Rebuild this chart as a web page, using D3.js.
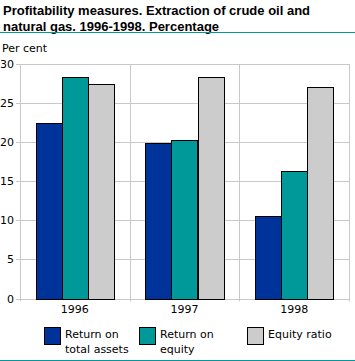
<!DOCTYPE html>
<html><head><meta charset="utf-8">
<script src="https://cdn.jsdelivr.net/npm/d3@7"></script>
<style>body{margin:0;background:#fff}svg{display:block}text{font-family:"DejaVu Sans",sans-serif}</style>
</head><body>
<script>
const categories = ["1996","1997","1998"];
const seriesNames = ["Return on total assets","Return on equity","Equity ratio"];
const legendLines = [["Return on","total assets"],["Return on","equity"],["Equity ratio"]];
const returnOnTotalAssets = [22.5, 19.9, 10.5];
const returnOnEquity = [28.4, 20.3, 16.3];
const equityRatio = [27.4, 28.3, 27.0];
const yTicks = [0,5,10,15,20,25,30];
const colors = ["#003399","#009999","#cccccc"];
const series = [returnOnTotalAssets, returnOnEquity, equityRatio];

(function(){
const W=355,H=361;
const svg=d3.select("body").append("svg").attr("width",W).attr("height",H);
const pL=20,pR=349,pT=64,pB=298.5;
const x=d3.scaleBand().domain(categories).range([pL,pR]).paddingInner(0).paddingOuter(0);
const xi=d3.scaleBand().domain(d3.range(3)).range([0,x.bandwidth()]).paddingInner(0).paddingOuter(0.6);
const y=d3.scaleLinear().domain([0,30]).range([pB,pT]);

const title=svg.append("text").attr("x",3).attr("y",15).attr("font-size",13).attr("fill","#000").style("font-family","'Liberation Sans',Arial,sans-serif").attr("font-weight","bold");
title.append("tspan").attr("x",3).attr("dy",0).text("Profitability measures. Extraction of crude oil and");
title.append("tspan").attr("x",3).attr("dy",16).text("natural gas. 1996-1998. Percentage");
svg.append("line").attr("x1",0).attr("x2",W).attr("y1",32.5).attr("y2",32.5).attr("stroke","#009999").attr("stroke-width",1);
svg.append("line").attr("x1",0).attr("x2",W).attr("y1",360.5).attr("y2",360.5).attr("stroke","#009999").attr("stroke-width",1);

svg.append("text").attr("x",2).attr("y",52).attr("font-size",11).text("Per cent");

const g=svg.append("g");
g.selectAll("line.h").data(yTicks).join("line")
 .attr("x1",pL-4).attr("x2",pR).attr("y1",d=>Math.round(y(d))+0.5).attr("y2",d=>Math.round(y(d))+0.5)
 .attr("stroke","#c8c8c8");
g.selectAll("line.v").data([pL,x("1997"),x("1998"),pR]).join("line")
 .attr("x1",d=>Math.round(d)+0.5).attr("x2",d=>Math.round(d)+0.5).attr("y1",pT).attr("y2",pB+3)
 .attr("stroke","#c8c8c8");
g.selectAll("text.yt").data(yTicks).join("text")
 .attr("x",14).attr("y",d=>y(d)+4).attr("text-anchor","end").attr("font-size",11).text(d=>d);

series.forEach((vals,si)=>{
  svg.append("g").selectAll("rect").data(vals).join("rect")
   .attr("x",(d,i)=>Math.round(x(categories[i])+xi(si))+0.5)
   .attr("width",Math.round(xi.bandwidth()))
   .attr("y",d=>Math.round(y(d))+0.5)
   .attr("height",d=>Math.round(y(0))-Math.round(y(d)))
   .attr("fill",colors[si]).attr("stroke","#000").attr("stroke-width",1);
});

svg.selectAll("text.xl").data(categories).join("text")
 .attr("x",d=>x(d)+x.bandwidth()/2).attr("y",313).attr("text-anchor","middle").attr("font-size",11).text(d=>d);

const legX=[44,139,247];
legendLines.forEach((lines,i)=>{
  svg.append("rect").attr("x",legX[i]+0.5).attr("y",327.5).attr("width",16).attr("height",17)
   .attr("fill",colors[i]).attr("stroke","#000");
  const t=svg.append("text").attr("x",legX[i]+21).attr("y",338).attr("font-size",11);
  lines.forEach((l,j)=>t.append("tspan").attr("x",legX[i]+21).attr("dy",j?15:0).text(l));
});
})();
</script>
</body></html>
